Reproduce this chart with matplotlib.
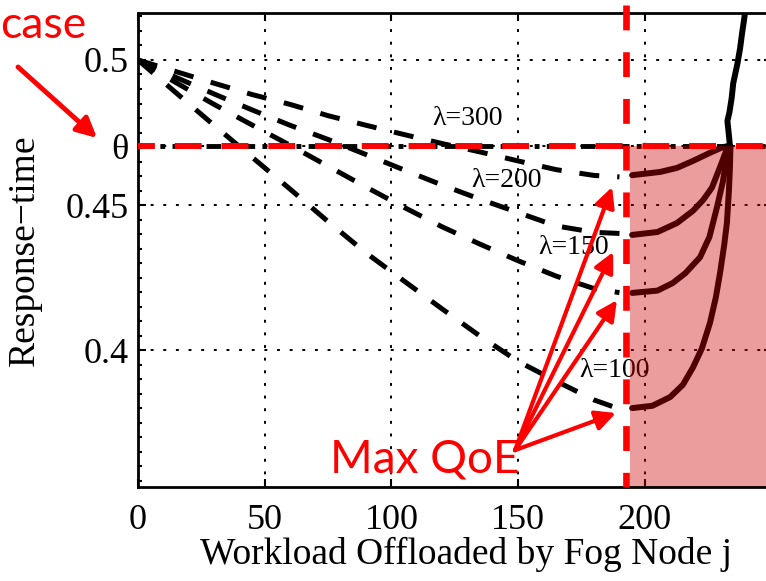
import matplotlib
matplotlib.use("Agg")
import matplotlib.pyplot as plt
from matplotlib.patches import Rectangle
from matplotlib.ticker import MultipleLocator

plt.rcParams["font.family"] = ["Liberation Serif", "DejaVu Serif"]

# Response-time threshold and the offload level giving the best QoE
theta = 0.4703
x_opt = 192.5
x_shade = 194.2

# Dashed curves: response time while offloading below the optimum
x_pre = [0, 15, 30, 45, 60, 75, 90, 105, 120, 135, 150, 165, 180, 190]
y_pre_300 = [0.5, 0.4960, 0.4920, 0.4881, 0.4847, 0.4808, 0.4775, 0.4743,
             0.4712, 0.4683, 0.4652, 0.4622, 0.4602, 0.4597]
y_pre_200 = [0.5, 0.4940, 0.4883, 0.4828, 0.4775, 0.4726, 0.4674, 0.4621,
             0.4569, 0.4520, 0.4474, 0.4428, 0.4406, 0.4402]
y_pre_150 = [0.5, 0.4922, 0.4847, 0.4776, 0.4706, 0.4634, 0.4562, 0.4492,
             0.4425, 0.4365, 0.4308, 0.4255, 0.4212, 0.4198]
y_pre_100 = [0.5, 0.4887, 0.4775, 0.4665, 0.4555, 0.4443, 0.4335, 0.4238,
             0.4142, 0.4048, 0.3961, 0.3893, 0.3828, 0.3797]

# Solid curves: response time beyond the optimum, up to the threshold
x_post_300 = [195, 206, 212.7, 219, 225.7, 230.9, 233]
y_post_300 = [0.4603, 0.4614, 0.4628, 0.4652, 0.4680, 0.4700, 0.4703]
x_post_200 = [195, 205, 212.7, 219, 223, 226.5, 229.7, 232.8]
y_post_200 = [0.4397, 0.4407, 0.4438, 0.4480, 0.4517, 0.4560, 0.4631, 0.4703]
x_post_150 = [195, 205, 211, 216, 221.8, 225.5, 228.5, 230.8, 232.4, 233.2]
y_post_150 = [0.4197, 0.4205, 0.4231, 0.4265, 0.4320, 0.4390, 0.4493, 0.4580,
              0.4666, 0.4703]
x_post_100 = [195, 203, 210, 215, 219, 222.5, 225.7, 228, 229.7, 231.3,
              232.4, 233.2, 233.6, 233.8]
y_post_100 = [0.3800, 0.3808, 0.3838, 0.3880, 0.3940, 0.4005, 0.4093, 0.4180,
              0.4266, 0.4360, 0.4438, 0.4550, 0.4631, 0.4703]

# Blow-up above the threshold
x_over = [233.6, 233.2, 232.6, 233.4, 234.3, 234.9, 236.5, 237.6, 238.4, 239.2, 239.8]
y_over = [0.4703, 0.4740, 0.4790, 0.4820, 0.4870, 0.4920, 0.4985, 0.5040,
          0.5093, 0.5140, 0.5180]

lam_text = ["λ=300", "λ=200", "λ=150", "λ=100"]
lam_pos = [(130.2, 0.4800), (145.6, 0.4583), (171.7, 0.4352), (188.2, 0.3928)]

# Arrow heads marking the best-QoE point on each curve
qoe_tail = (148.8, 0.3655)
qoe_heads = [(187.1, 0.4562), (187.5, 0.4338), (189.0, 0.4172), (188.6, 0.3783)]

x_ticks = [0, 50, 100, 150, 200]
y_ticks = [0.4, 0.45, theta, 0.5]
y_tick_labels = ["0.4", "0.45", "θ", "0.5"]

fig = plt.figure(figsize=(7.66, 5.81), dpi=100)
ax = fig.add_axes([138 / 766, 94 / 581, 633.5 / 766, 474 / 581])
ax.set_xlim(0, 250)
ax.set_ylim(0.3528, 0.5162)

ax.set_xticks(x_ticks)
ax.set_yticks(y_ticks)
ax.set_yticklabels(y_tick_labels)
ax.yaxis.set_minor_locator(MultipleLocator(0.005))
ax.tick_params(which="both", direction="in", top=True, right=True)
ax.tick_params(which="major", length=6, width=1.5, labelsize=26)
ax.tick_params(axis="x", pad=12)
ax.tick_params(axis="y", pad=7)
ax.tick_params(which="minor", length=3, width=1.5)
ax.grid(True, color="black", linestyle=(0, (1.5, 5)), linewidth=1.4, zorder=0.5)
for s in ax.spines.values():
    s.set_linewidth(2)
    s.set_zorder(6)

dash = (0, (4, 3.6))
for y_pre in (y_pre_300, y_pre_200, y_pre_150, y_pre_100):
    ax.plot(x_pre, y_pre, color="black", lw=3.6, linestyle=dash,
            dash_capstyle="butt", zorder=2)

for xs, ys in ((x_post_300, y_post_300), (x_post_200, y_post_200),
               (x_post_150, y_post_150), (x_post_100, y_post_100)):
    ax.plot(xs, ys, color="black", lw=4.3, solid_capstyle="round", zorder=2)
ax.plot(x_over, y_over, color="black", lw=4.3, zorder=2)

for t, (tx, ty) in zip(lam_text, lam_pos):
    ax.text(tx, ty, t, fontsize=20, ha="center", va="center", zorder=3)

# Threshold line
ax.plot([0, 250], [theta, theta], color="black", lw=3.5,
        linestyle=(0, (3, 1.5, 1, 1.5)), zorder=3)

# Region past the optimum that still meets the threshold
ax.add_patch(Rectangle((x_shade, 0.3528), 250 - x_shade, theta - 0.3528,
                       facecolor=(205 / 255, 0, 0), alpha=0.39,
                       edgecolor="none", zorder=5))

ax.plot([0, 250], [theta, theta], color="red", lw=4.3,
        linestyle=(1.67, (4.5, 3.33)), dash_capstyle="butt", zorder=7)
ax.plot([x_opt, x_opt], [0.519, 0.3528], color="red", lw=4.8,
        linestyle=(0, (3.73, 3.28)), dash_capstyle="butt", clip_on=False, zorder=7)

arrow_kw = dict(arrowstyle="-|>,head_length=0.6,head_width=0.3", color="red",
                lw=3, mutation_scale=20, shrinkA=0, shrinkB=0)
ax.text(75.8, 0.3579, "Max QoE", color="red", fontsize=33, family="Lato",
        ha="left", va="baseline", zorder=8)
for head in qoe_heads:
    ax.annotate("", xy=head, xytext=qoe_tail, arrowprops=arrow_kw,
                zorder=8, annotation_clip=False)

fig.text(0, 543 / 581, "case", color="red", fontsize=32, family="Lato",
         ha="left", va="baseline")
ax.annotate("", xy=(97 / 766, 443 / 581), xycoords="figure fraction",
            xytext=(18 / 766, 514 / 581), textcoords="figure fraction",
            arrowprops=dict(arrow_kw, lw=3.5), annotation_clip=False)

ax.set_xlabel("Workload Offloaded by Fog Node j", fontsize=27)
ax.xaxis.set_label_coords(0.518, -0.105)
ax.set_ylabel("Response−time", fontsize=27)
ax.yaxis.set_label_coords(-0.152, 0.5)

fig.savefig("out.png", dpi=100)
